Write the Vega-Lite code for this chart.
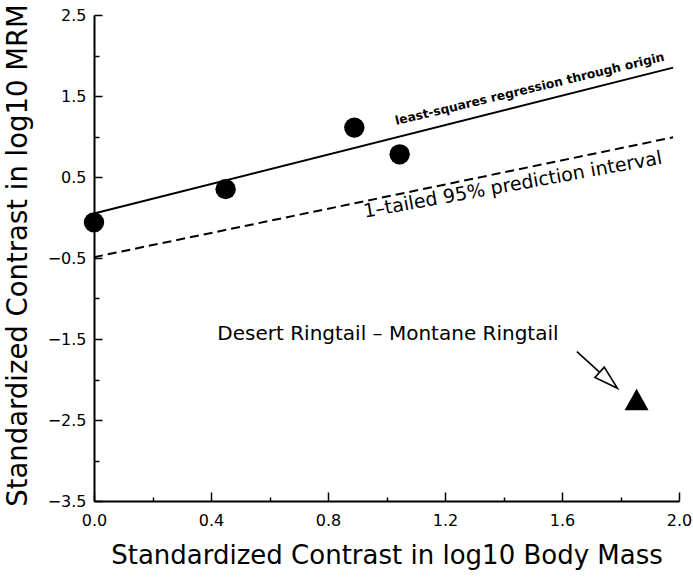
{
  "$schema": "https://vega.github.io/schema/vega-lite/v6.json",
  "width": 585,
  "height": 486,
  "autosize": {"type": "none"},
  "padding": {"left": 94, "top": 15, "right": 14, "bottom": 77},
  "background": "white",
  "config": {"view": {"stroke": null}, "font": "DejaVu Sans"},
  "datasets": {
    "fit": [{"x": 0, "y": 0.05}, {"x": 1.98, "y": 1.85}],
    "pi": [{"x": 0, "y": -0.49}, {"x": 1.98, "y": 0.99}],
    "contrasts": [
      {"x": 0.0, "y": -0.06},
      {"x": 0.45, "y": 0.35},
      {"x": 0.89, "y": 1.11},
      {"x": 1.045, "y": 0.78}
    ],
    "ringtail": [{"x": 1.855, "y": -2.247}],
    "arrow": [{"x": 1.651, "y": -1.657, "x2": 1.729, "y2": -1.911}],
    "arrowhead": [{"x": 1.759, "y": -2.01}],
    "label_fit": [{"x": 1.493, "y": 1.54, "label": "least-squares regression through origin"}],
    "label_pi": [{"x": 1.435, "y": 0.33, "label": "1–tailed 95% prediction interval"}],
    "label_ring": [{"x": 1.005, "y": -1.512, "label": "Desert Ringtail – Montane Ringtail"}]
  },
  "encoding": {
    "x": {
      "field": "x",
      "type": "quantitative",
      "scale": {"domain": [0, 2], "nice": false, "zero": false},
      "axis": {
        "values": [0, 0.2, 0.4, 0.6, 0.8, 1, 1.2, 1.4, 1.6, 1.8, 2],
        "format": ".1f",
        "labelExpr": "round(datum.value*10) % 4 == 0 ? datum.label : ''",
        "labelFlush": false,
        "labelOverlap": false,
        "labelFont": "DejaVu Sans",
        "labelFontSize": 16,
        "labelColor": "black",
        "labelPadding": 20,
        "grid": false,
        "domainColor": "black",
        "domainWidth": 2,
        "ticks": true,
        "tickColor": "black",
        "tickWidth": 1.5,
        "tickSize": -9,
        "tickDash": {"condition": {"test": "round(datum.value*10) % 4 == 0", "value": [20, 0]}, "value": [4, 20]},
        "title": "Standardized Contrast in log10 Body Mass",
        "titleFont": "DejaVu Sans",
        "titleFontSize": 26,
        "titleFontWeight": "normal",
        "titleColor": "black",
        "titleBaseline": "alphabetic",
        "titleY": 62
      }
    },
    "y": {
      "field": "y",
      "type": "quantitative",
      "scale": {"domain": [-3.5, 2.5], "nice": false, "zero": false},
      "axis": {
        "values": [-3.5, -3, -2.5, -2, -1.5, -1, -0.5, 0, 0.5, 1, 1.5, 2, 2.5],
        "format": ".1f",
        "labelExpr": "abs(round(datum.value*2)) % 2 == 1 ? datum.label : ''",
        "labelFlush": false,
        "labelOverlap": false,
        "labelFont": "DejaVu Sans",
        "labelFontSize": 16,
        "labelColor": "black",
        "labelPadding": 16,
        "grid": false,
        "domainColor": "black",
        "domainWidth": 2,
        "ticks": true,
        "tickColor": "black",
        "tickWidth": 1.5,
        "tickSize": -8,
        "tickDash": {"condition": {"test": "abs(round(datum.value*2)) % 2 == 1", "value": [20, 0]}, "value": [5, 20]},
        "title": "Standardized Contrast in log10 MRM",
        "titleFont": "DejaVu Sans",
        "titleFontSize": 27.5,
        "titleFontWeight": "normal",
        "titleColor": "black",
        "titleAngle": 270,
        "titleAlign": "center",
        "titleBaseline": "alphabetic",
        "titleX": -68,
        "titleY": 240
      }
    }
  },
  "layer": [
    {"data": {"name": "fit"}, "mark": {"type": "line", "color": "black", "strokeWidth": 2}},
    {"data": {"name": "pi"}, "mark": {"type": "line", "color": "black", "strokeWidth": 2, "strokeDash": [9, 5]}},
    {"data": {"name": "contrasts"}, "mark": {"type": "point", "shape": "circle", "filled": true, "color": "black", "opacity": 1, "size": 415}},
    {"data": {"name": "ringtail"}, "mark": {"type": "point", "shape": "M0,-0.9L1,0.9L-1,0.9Z", "filled": true, "color": "black", "opacity": 1, "size": 576}},
    {"data": {"name": "arrow"}, "mark": {"type": "rule", "color": "black", "strokeWidth": 1.6},
     "encoding": {"x2": {"field": "x2"}, "y2": {"field": "y2"}}},
    {"data": {"name": "arrowhead"}, "mark": {"type": "point", "shape": "M0,-1L0.58,1L-0.58,1Z", "filled": true, "fill": "white", "stroke": "black", "strokeWidth": 1.6, "opacity": 1, "size": 576, "angle": 132}},
    {"data": {"name": "label_fit"}, "mark": {"type": "text", "font": "DejaVu Sans", "fontWeight": "bold", "fontSize": 12.3, "angle": -13.5, "align": "center", "baseline": "alphabetic", "color": "black"},
     "encoding": {"text": {"field": "label"}}},
    {"data": {"name": "label_pi"}, "mark": {"type": "text", "font": "DejaVu Sans", "fontSize": 19, "angle": -10.3, "align": "center", "baseline": "alphabetic", "color": "black"},
     "encoding": {"text": {"field": "label"}}},
    {"data": {"name": "label_ring"}, "mark": {"type": "text", "font": "DejaVu Sans", "fontSize": 20, "align": "center", "baseline": "alphabetic", "color": "black"},
     "encoding": {"text": {"field": "label"}}}
  ]
}
